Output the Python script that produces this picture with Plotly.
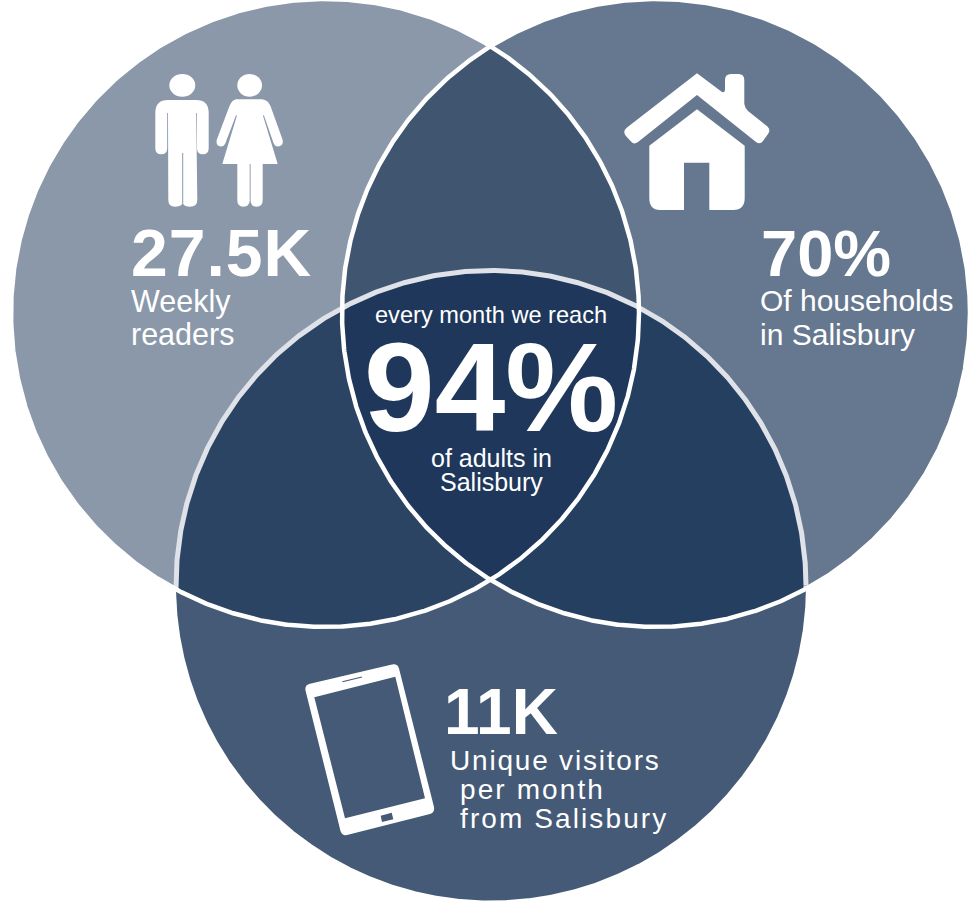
import numpy as np
import plotly.graph_objects as go

# Venn circles in picture pixels: centre x, centre y, radius
circle_names = ["readers", "households", "visitors"]
circle_cx = [325.0, 656.0, 491.0]
circle_cy = [313.0, 313.0, 585.5]
circle_r = [314.0, 314.0, 315.0]
circle_colors = ["#8a98aa", "#66788f", "#455a76"]

overlap_sets = [(0, 1), (0, 2), (1, 2), (0, 1, 2)]
overlap_colors = ["#40556f", "#2b4464", "#253f61", "#1e375b"]

headline_labels = ["27.5K", "70%", "11K", "94%"]
caption_lines = ["Weekly", "readers", "Of households", "in Salisbury",
                 "Unique visitors", "per month", "from Salisbury",
                 "every month we reach", "of adults in", "Salisbury"]

WHITE = "#ffffff"
FONT = "Liberation Sans"


def circle_points(i, n=1440):
    t = np.linspace(0, 2 * np.pi, n + 1)
    return circle_cx[i] + circle_r[i] * np.cos(t), circle_cy[i] + circle_r[i] * np.sin(t)


def inside(x, y, i):
    return (x - circle_cx[i]) ** 2 + (y - circle_cy[i]) ** 2 <= circle_r[i] ** 2 + 1e-6


def overlap_polygon(ids):
    xs, ys = [], []
    for i in ids:
        x, y = circle_points(i)
        keep = np.ones_like(x, dtype=bool)
        for j in ids:
            if j != i:
                keep &= inside(x, y, j)
        xs.append(x[keep])
        ys.append(y[keep])
    x, y = np.concatenate(xs), np.concatenate(ys)
    order = np.argsort(np.arctan2(y - y.mean(), x - x.mean()))
    x, y = x[order], y[order]
    return np.append(x, x[0]), np.append(y, y[0])


fig = go.Figure()

for i, name in enumerate(circle_names):
    x, y = circle_points(i)
    fig.add_trace(go.Scatter(x=x, y=y, mode="lines", fill="toself", fillcolor=circle_colors[i],
                             line=dict(width=0), name=name, hoverinfo="skip", showlegend=False))

for ids, color in zip(overlap_sets, overlap_colors):
    x, y = overlap_polygon(ids)
    fig.add_trace(go.Scatter(x=x, y=y, mode="lines", fill="toself", fillcolor=color,
                             line=dict(width=0), hoverinfo="skip", showlegend=False))

# pale outline of the lower circle, only where it crosses the two upper circles
x, y = circle_points(2)
mask = inside(x, y, 0) | inside(x, y, 1)
fig.add_trace(go.Scatter(x=np.where(mask, x, np.nan), y=np.where(mask, y, np.nan), mode="lines",
                         line=dict(color="#dfe2e9", width=5), hoverinfo="skip", showlegend=False))
# white outlines of the two upper circles
for i in (0, 1):
    x, y = circle_points(i)
    fig.add_trace(go.Scatter(x=x, y=y, mode="lines", line=dict(color=WHITE, width=4.5),
                             hoverinfo="skip", showlegend=False))

man = ("M155.3,113 Q155.3,100 168,100 L196,100 Q208.7,100 208.7,113 L208.7,148 Q208.7,154.3 202.7,154.3 "
       "Q197,154.3 197,148 L197,113 L196.2,113 L197.3,200 Q197.3,206.7 190,206.7 Q185,206.7 183.2,204 "
       "L183.2,153 L182.2,153 L182.2,204 Q180,206.7 175,206.7 Q168.3,206.7 168.3,200 L168,113 L167.2,113 "
       "L167.2,148 Q167.2,154.3 161.2,154.3 Q155.3,154.3 155.3,148 Z")
woman = ("M236,99.3 L262,99.3 Q268,100 270.5,106 L282.7,140 Q283.5,146 278,146.5 Q275,146.5 273.5,143 "
         "L263.8,115 L263,115.8 L277.7,164 L262.7,164 L262.7,200 Q262.7,206.7 256.5,206.7 Q251,206.7 250.6,201 "
         "L250.6,164 L249.7,164 L249.7,201 Q249.2,206.7 243.5,206.7 Q237.3,206.7 237.3,200 L237.3,164 "
         "L222.3,164 L236.9,115.8 L236.1,115 L225.5,143 Q224,146.5 220.8,146.5 Q215.8,146 216.7,140 "
         "L229.5,106 Q232,100 236,99.3 Z")
house = ("M697,73.3 L722,92 Q724.5,93 725,90 L725,80 Q725,74 731,74 L738.5,74 Q744.3,74 744.3,80 L744.3,104 "
         "Q745,108 748,111 L767.5,126.5 Q771,130 768,134 L763,141 Q760,145 756,142 L697,95 L638,142 "
         "Q634,145 631,141.5 L625.5,135.5 Q622.5,131 627,127.5 Z "
         "M697,109.3 L744.7,145.7 L744.7,198 Q744.7,210 733.3,210 L709.3,210 L709.3,162.7 L684,162.7 L684,210 "
         "L660,210 Q649.3,210 649.3,198 L649.3,145.7 Z")
tablet = ("M310,683.8 L392,664.5 Q397.5,663.5 399,668.5 L434,807 Q435,812.5 430,814 L347,835 Q342,836 340.5,831 "
          "L305.5,690.5 Q304.5,685 310,683.8 Z "
          "M314.3,697.3 L395.3,676.7 L425,798.3 L345,818.3 Z "
          "M342.3,681.3 L361.7,676.6 L362,677.6 L342.6,682.3 Z "
          "M380.7,815.7 L391.7,812.7 L393.3,819.3 L382,822 Z")

shapes = [dict(type="path", path=p, xref="x", yref="y", fillcolor=WHITE, line=dict(width=0), layer="above")
          for p in (man, woman, house, tablet)]
for x0, x1 in ((169.3, 195.3), (237.3, 262)):
    shapes.append(dict(type="circle", xref="x", yref="y", x0=x0, x1=x1, y0=74, y1=96.7,
                       fillcolor=WHITE, line=dict(width=0), layer="above"))


def label(text, x, y, size, anchor="left", bold=False, spacing=0):
    t = f'<span style="letter-spacing:{spacing}px">{text}</span>' if spacing else text
    return dict(text=t, x=x, y=y, xref="x", yref="y", xanchor=anchor, yanchor="middle", showarrow=False,
                align=anchor, font=dict(family=FONT, size=size, color=WHITE, weight=700 if bold else 400))


annotations = [
    label(headline_labels[0], 129, 253, 66, bold=True, spacing=1),
    label(caption_lines[0], 129, 301, 30.5),
    label(caption_lines[1], 129, 334, 30.5),
    label(headline_labels[1], 759, 253, 65, bold=True),
    label(caption_lines[2], 758, 300, 30),
    label(caption_lines[3], 758, 334, 30),
    label(headline_labels[2], 442, 712, 64, bold=True),
    label(caption_lines[4], 448, 760, 28, spacing=1.8),
    label(caption_lines[5], 458, 789, 28, spacing=2.1),
    label(caption_lines[6], 458, 818, 28, spacing=2.1),
    label(caption_lines[7], 491, 315, 23.6, anchor="center"),
    label(headline_labels[3], 491, 387, 127, anchor="center", bold=True),
    label(caption_lines[8], 491, 458, 25, anchor="center"),
    label(caption_lines[9], 491, 482, 25, anchor="center"),
]

fig.update_layout(
    width=972, height=906, margin=dict(l=0, r=0, t=0, b=0),
    paper_bgcolor=WHITE, plot_bgcolor=WHITE, showlegend=False,
    xaxis=dict(range=[0, 972], visible=False, fixedrange=True),
    yaxis=dict(range=[906, 0], visible=False, fixedrange=True),
    shapes=shapes, annotations=annotations,
)
fig.write_html("out.html", config=dict(displayModeBar=False),
               post_script="document.body.style.margin='0';document.body.style.overflow='hidden';")
